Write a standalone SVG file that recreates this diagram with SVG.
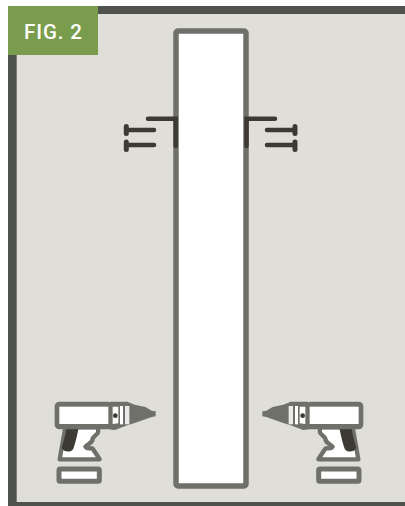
<svg xmlns="http://www.w3.org/2000/svg" width="405" height="506" viewBox="0 0 405 506">
<style>
.wall{fill:#50524e}
.g{fill:#6f706a}
.w{fill:#fff}
.o{fill:#fff;stroke:#6f706a;stroke-linejoin:round}
.d{fill:none;stroke:#3d3a34;stroke-linecap:round;stroke-linejoin:miter}
.k{fill:#3d3a34}
</style>
<defs>
<g id="drill">
<path class="o" stroke-width="13" d="M76 112L59 208H179C172 196 164 186 158 176C150 172 142 180 136 170C146 160 158 158 158 146C164 132 182 134 172 112Z"/>
<path class="k" d="M80 112H116C112 135 106 160 100 176C94 188 72 188 65 174C71 155 76 135 80 112Z"/>
<rect class="g" x="44" y="35" width="172" height="83" rx="14"/>
<path class="g" d="M210 35H262L284 44L316 51L335 62L347 64V79L335 81L316 88L284 99L262 106L225 120L205 118Z"/>
<rect class="w" x="58" y="50" width="147" height="52"/>
<path class="w" d="M218 50H235V100L218 102Z"/>
<rect class="w" x="240" y="48" width="9" height="55"/>
<rect class="w" x="255" y="48" width="13" height="55" opacity=".85"/>
<circle class="k" cx="226" cy="77" r="7"/>
<rect class="o" stroke-width="15" x="57" y="237" width="121" height="37" rx="4"/>
</g>
</defs>
<g id="wall">
<rect x="8" y="6" width="397" height="500" fill="#dfded9"/>
<rect class="wall" x="8" y="6" width="397" height="8"/>
<rect class="wall" x="8" y="6" width="8.700" height="500"/>
<rect class="wall" x="8" y="502" width="397" height="4"/>
</g>
<g id="label">
<rect x="8" y="6" width="90" height="49" fill="#7a9c4d"/>
<text x="24" y="38.700" font-family="Roboto, sans-serif" font-size="20.500" font-weight="500" letter-spacing=".9" fill="#fff">FIG. 2</text>
</g>
<g id="board">
<rect x="176" y="31" width="70" height="455" rx="2" fill="#fff" stroke="#6f706a" stroke-width="5.500"/>
</g>
<g id="bracket-left">
<path class="d" stroke-width="4.500" d="M148 118.700H175.700V146"/>
<path class="d" stroke-width="5" d="M126.300 126.500V133.500M126.300 142V149.500"/>
<path class="d" stroke-width="4.500" d="M127 130H154M127 145H154"/>
</g>
<g id="bracket-right">
<path class="d" stroke-width="4.500" d="M275 118.700H246.500V146"/>
<path class="d" stroke-width="5" d="M295 126.500V133.500M295 142V149.500"/>
<path class="d" stroke-width="4.500" d="M294 130H267M294 145H267"/>
</g>
<use id="drill-left" href="#drill" transform="translate(40 390) scale(.33333)"/>
<use id="drill-right" href="#drill" transform="translate(378 390) scale(-.33333 .33333)"/>
</svg>
